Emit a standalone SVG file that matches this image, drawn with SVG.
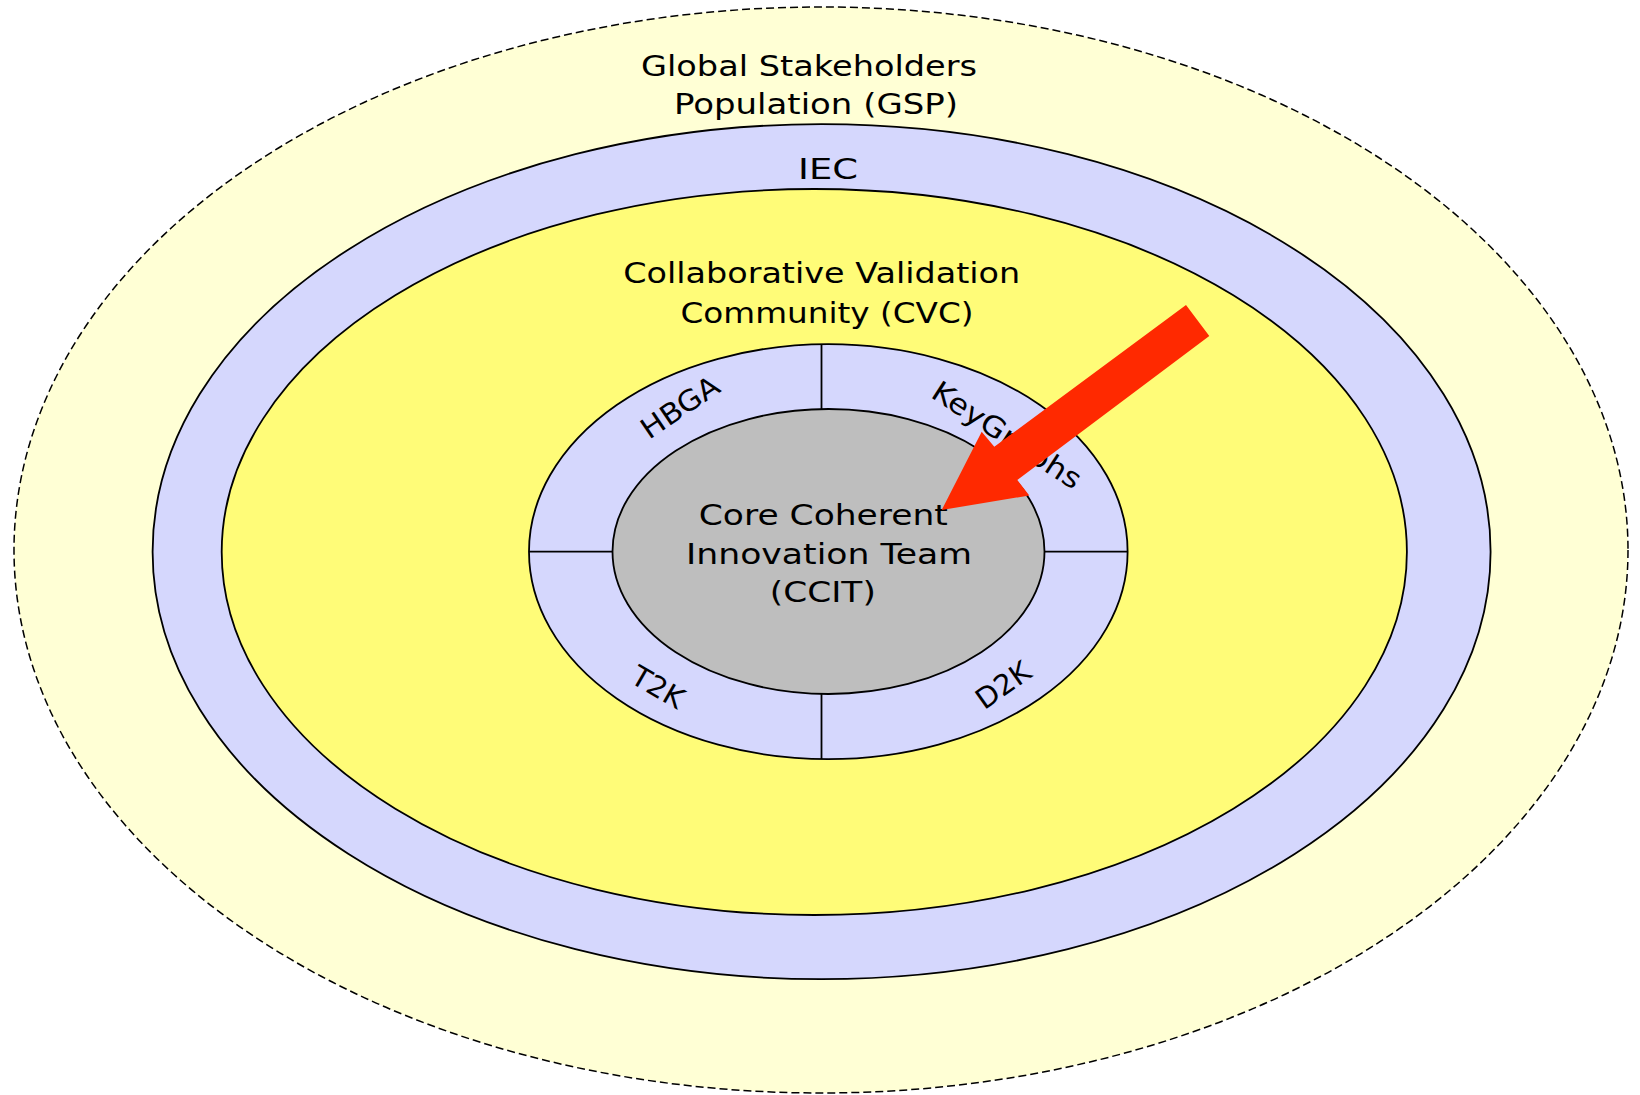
<svg xmlns="http://www.w3.org/2000/svg" width="1640" height="1095" viewBox="0 0 1640 1095">
<style>
.lbl{font-family:"DejaVu Sans","Verdana",sans-serif;font-size:28.4px;fill:#000;text-anchor:middle}
.ring{stroke:#000;stroke-width:1.8}
.div{stroke:#000;stroke-width:1.8;fill:none}
</style>
<rect width="1640" height="1095" fill="#ffffff"/>
<g id="gsp">
<ellipse cx="821" cy="550" rx="807" ry="543" fill="#FFFFD5" stroke="#000" stroke-width="1.5" stroke-dasharray="8,4"/>
<text class="lbl" x="809" y="75.7" textLength="336" lengthAdjust="spacingAndGlyphs">Global Stakeholders</text>
<text class="lbl" x="816" y="114" textLength="284" lengthAdjust="spacingAndGlyphs">Population (GSP)</text>
</g>
<g id="iec">
<ellipse class="ring" cx="821.6" cy="551.7" rx="669" ry="427.5" fill="#D5D7FD"/>
<text class="lbl" x="828" y="179" textLength="60" lengthAdjust="spacingAndGlyphs">IEC</text>
</g>
<g id="cvc">
<ellipse class="ring" cx="814.3" cy="552" rx="592.6" ry="363" fill="#FFFC78"/>
<text class="lbl" x="821.7" y="282.7" textLength="397" lengthAdjust="spacingAndGlyphs">Collaborative Validation</text>
<text class="lbl" x="827" y="322.7" textLength="293" lengthAdjust="spacingAndGlyphs">Community (CVC)</text>
</g>
<g id="ring">
<ellipse class="ring" cx="828.3" cy="551.7" rx="299.3" ry="207.5" fill="#D5D7FD"/>
<line class="div" x1="821.5" y1="344" x2="821.5" y2="409"/>
<line class="div" x1="821.5" y1="694" x2="821.5" y2="759"/>
<line class="div" x1="529" y1="551.7" x2="612.5" y2="551.7"/>
<line class="div" x1="1044.6" y1="551.7" x2="1128" y2="551.7"/>
</g>
<g id="hbga">
<text class="lbl" transform="translate(680,407) rotate(-34)" x="0" y="10" textLength="88" lengthAdjust="spacingAndGlyphs">HBGA</text>
</g>
<g id="keygraphs">
<text class="lbl" transform="translate(1007,435) rotate(33)" x="0" y="10" textLength="172" lengthAdjust="spacingAndGlyphs">KeyGraphs</text>
</g>
<g id="t2k">
<text class="lbl" transform="translate(658,687) rotate(30)" x="0" y="10" textLength="56" lengthAdjust="spacingAndGlyphs">T2K</text>
</g>
<g id="d2k">
<text class="lbl" transform="translate(1003,685) rotate(-35)" x="0" y="10" textLength="60" lengthAdjust="spacingAndGlyphs">D2K</text>
</g>
<g id="ccit">
<ellipse class="ring" cx="828.5" cy="551.5" rx="216" ry="142.5" fill="#BEBEBE"/>
<text class="lbl" x="823.3" y="525" textLength="249" lengthAdjust="spacingAndGlyphs">Core Coherent</text>
<text class="lbl" x="829" y="564.3" textLength="286" lengthAdjust="spacingAndGlyphs">Innovation Team</text>
<text class="lbl" x="822.8" y="602" textLength="106" lengthAdjust="spacingAndGlyphs">(CCIT)</text>
</g>
<g id="connectors">
<polygon points="1186,305 1209.3,336 1017.3,480 1029.3,495.5 941.7,510 981.7,431.7 994.3,446.7" fill="#FF2900"/>
</g>
</svg>
